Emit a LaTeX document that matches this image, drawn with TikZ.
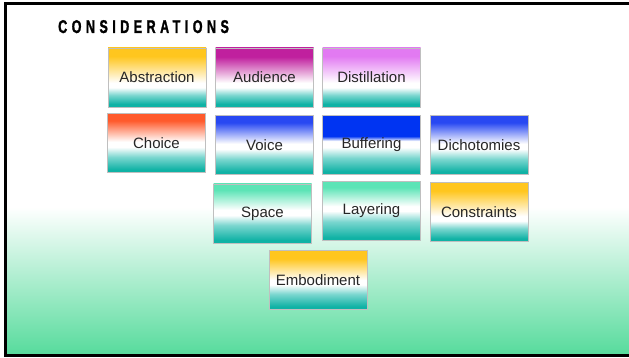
\documentclass[tikz,border=0pt]{standalone}
\usepackage{fontspec}
\setmainfont{Liberation Sans}
\newfontfamily\titlefont{Liberation Sans}[FakeStretch=0.68,LetterSpace=24,FakeBold=1.2]
\definecolor{tealB}{HTML}{10B2A5}
\definecolor{tealM}{HTML}{7AD6CF}
\definecolor{cGold}{HTML}{FFC61E}
\definecolor{cMag}{HTML}{C0209E}
\definecolor{cViol}{HTML}{E27AF2}
\definecolor{cOrange}{HTML}{FF5A2C}
\definecolor{cBlue}{HTML}{2848F2}
\definecolor{cBlueS}{HTML}{0034F2}
\definecolor{cMint}{HTML}{5CE4B6}
\definecolor{bgGreen}{HTML}{56DB9C}
% name, top colour, teal-mid, white low, white high, solid-top start (bp; box spans 25bp..75bp)
\newcommand\mkshade[6]{%
  \pgfdeclareverticalshading{#1}{100bp}{color(0bp)=(tealB); color(27.5bp)=(tealB);
    color(#3bp)=(tealM); color(#4bp)=(white); color(#5bp)=(white);
    color(#6bp)=(#2); color(100bp)=(#2)}}
\mkshade{shAbs}{cGold}{35}{41.5}{45.5}{68}
\mkshade{shAud}{cMag}{35}{41.5}{45.5}{67.5}
\mkshade{shDist}{cViol}{35}{41.5}{45.5}{68}
\mkshade{shCho}{cOrange}{38}{46.5}{51}{69}
\mkshade{shVoi}{cBlue}{38}{46.5}{51}{69}
\mkshade{shBuf}{cBlueS}{39}{48}{53.5}{57.5}
\mkshade{shDic}{cBlue}{38}{46.5}{51}{69}
\mkshade{shSpa}{cMint}{40}{48.5}{53}{70}
\mkshade{shLay}{cMint}{41}{50}{54}{70}
\mkshade{shCon}{cGold}{36}{42.5}{46.5}{68}
\mkshade{shEmb}{cGold}{38}{46}{50}{68}
\begin{document}
\begin{tikzpicture}[x=1pt,y=-1pt,
  box/.style={rectangle, minimum width=98pt, minimum height=59pt, inner sep=0pt,
    draw=gray!50, line width=0.8pt, text=black!85,
    font=\fontsize{15}{18}\selectfont},
  frame/.style={draw=black, line width=3pt}]
\useasboundingbox (0,0) rectangle (629,358);
\begin{scope}
\clip (0,0) rectangle (629,358);
\fill[white] (0,0) rectangle (629,358);
\shade[top color=white, bottom color=bgGreen] (5,207) rectangle (650,355);
\draw[frame] (660,3.5) -- (5,3.5) -- (5,355.5) -- (660,355.5);
\end{scope}
\node[anchor=base west, inner sep=0pt, font=\titlefont\fontsize{18.5}{22}\bfseries] (title) at (58,33) {CONSIDERATIONS};
\node[box, shading=shAbs] (abs) at (157,77.5) {Abstraction};
\node[box, shading=shAud] (aud) at (264.5,77.5) {Audience};
\node[box, shading=shDist] (dist) at (371.5,77.5) {Distillation};
\node[box, shading=shCho] (cho) at (156.5,143) {Choice};
\node[box, shading=shVoi] (voi) at (264.5,145) {Voice};
\node[box, shading=shBuf] (buf) at (371.5,145) {Buffering};
\node[box, shading=shDic] (dic) at (479,145) {Dichotomies};
\node[box, shading=shSpa] (spa) at (262.5,213.5) {Space};
\node[box, shading=shLay] (lay) at (371.5,211) {Layering};
\node[box, shading=shCon] (con) at (479,212) {Constraints};
\node[box, shading=shEmb] (emb) at (318,280) {Embodiment};
\end{tikzpicture}
\end{document}
